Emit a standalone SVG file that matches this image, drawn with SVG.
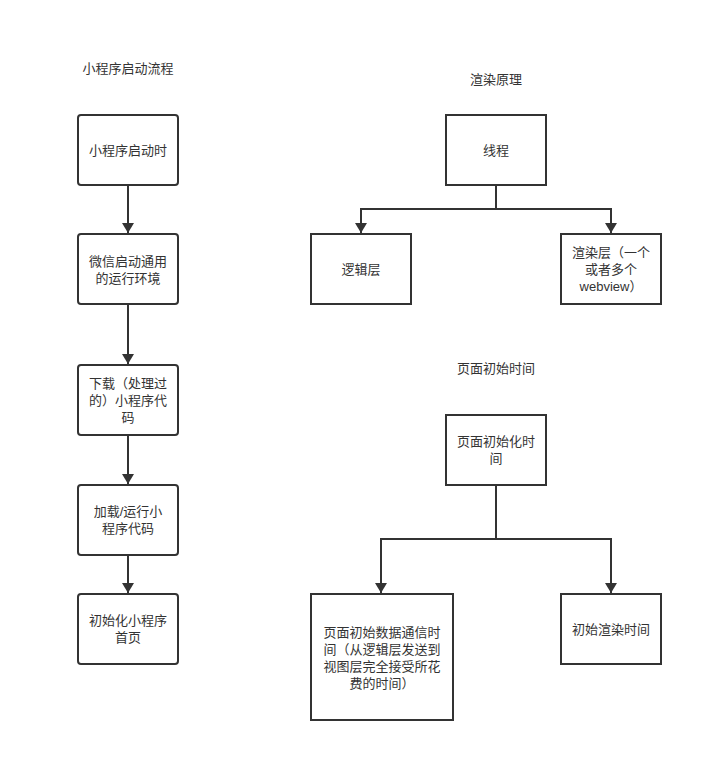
<svg xmlns="http://www.w3.org/2000/svg" width="723" height="783" viewBox="0 0 723 783">
<style>
.t{font-family:"Liberation Sans","Noto Sans CJK SC",sans-serif;font-size:13px;fill:#333;text-anchor:middle}
.b{fill:#fff;stroke:#333;stroke-width:2}
.c{fill:none;stroke:#333;stroke-width:2;marker-end:url(#ah)}
.l{fill:none;stroke:#333;stroke-width:2}
</style>
<defs>
<marker id="ah" viewBox="0 0 10 12" refX="10" refY="6" markerWidth="10" markerHeight="12" markerUnits="userSpaceOnUse" orient="auto">
<path d="M0,0 L10,6 L0,12 Z" fill="#333"/>
</marker>
</defs>
<rect width="723" height="783" fill="#fff"/>
<g id="titles">
<text class="t" x="128" y="73">小程序启动流程</text>
<text class="t" x="496" y="84">渲染原理</text>
<text class="t" x="496" y="373">页面初始时间</text>
</g>
<g id="connectors">
<path class="c" d="M128,185 V233"/>
<path class="c" d="M128,304 V364"/>
<path class="c" d="M128,435 V484"/>
<path class="c" d="M128,555 V593"/>
<path class="l" d="M496,185 V209"/>
<path class="c" d="M496,209 H361 V233"/>
<path class="c" d="M496,209 H611 V233"/>
<path class="l" d="M496,485 V539"/>
<path class="c" d="M496,539 H381 V593"/>
<path class="c" d="M496,539 H611 V593"/>
</g>
<g id="n1"><rect class="b" x="78" y="115" width="100" height="70" rx="3"/><text class="t" x="128" y="155">小程序启动时</text></g>
<g id="n2"><rect class="b" x="78" y="234" width="100" height="70" rx="3"/><text class="t" x="128" y="266">微信启动通用</text><text class="t" x="128" y="283">的运行环境</text></g>
<g id="n3"><rect class="b" x="78" y="365" width="100" height="70" rx="3"/><text class="t" x="128" y="388">下载（处理过</text><text class="t" x="128" y="405">的）小程序代</text><text class="t" x="128" y="422">码</text></g>
<g id="n4"><rect class="b" x="78" y="485" width="100" height="70" rx="3"/><text class="t" x="128" y="516">加载/运行小</text><text class="t" x="128" y="533">程序代码</text></g>
<g id="n5"><rect class="b" x="78" y="594" width="100" height="70" rx="3"/><text class="t" x="128" y="625">初始化小程序</text><text class="t" x="128" y="642">首页</text></g>
<g id="n6"><rect class="b" x="446" y="115" width="100" height="70"/><text class="t" x="496" y="155">线程</text></g>
<g id="n7"><rect class="b" x="311" y="234" width="100" height="70"/><text class="t" x="361" y="274">逻辑层</text></g>
<g id="n8"><rect class="b" x="561" y="234" width="100" height="70"/><text class="t" x="611" y="257">渲染层（一个</text><text class="t" x="611" y="274">或者多个</text><text class="t" x="611" y="291">webview）</text></g>
<g id="n9"><rect class="b" x="446" y="415" width="100" height="70"/><text class="t" x="496" y="446">页面初始化时</text><text class="t" x="496" y="463">间</text></g>
<g id="n10"><rect class="b" x="311" y="594" width="142" height="126"/><text class="t" x="382" y="637">页面初始数据通信时</text><text class="t" x="382" y="654">间（从逻辑层发送到</text><text class="t" x="382" y="671">视图层完全接受所花</text><text class="t" x="382" y="688">费的时间）</text></g>
<g id="n11"><rect class="b" x="561" y="594" width="100" height="70"/><text class="t" x="611" y="634">初始渲染时间</text></g>
</svg>
